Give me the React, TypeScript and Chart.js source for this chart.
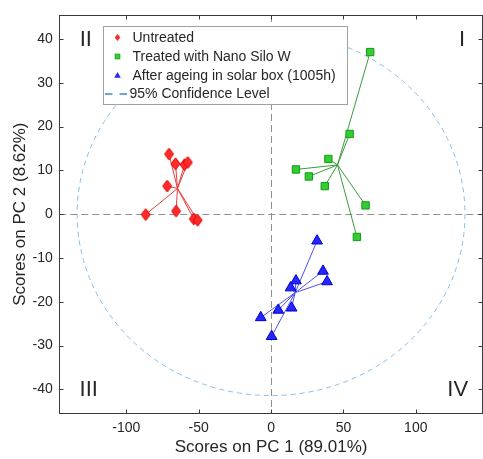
import React, { useEffect, useRef } from "react";
import { Chart, registerables } from "chart.js";

Chart.register(...registerables);

const seriesLabels = ["Untreated", "Treated with Nano Silo W", "After ageing in solar box (1005h)"];
const confidenceLabel = "95% Confidence Level";
const xTitle = "Scores on PC 1 (89.01%)";
const yTitle = "Scores on PC 2 (8.62%)";

const untreatedPC1 = [-70.5, -66.0, -59.8, -57.5, -71.8, -86.6, -65.6, -53.4, -50.7];
const untreatedPC2 = [13.7, 11.5, 11.3, 11.8, 6.4, -0.1, 0.7, -1.1, -1.4];
const treatedPC1 = [68.5, 54.3, 39.6, 17.2, 26.1, 37.1, 65.3, 59.3];
const treatedPC2 = [37.0, 18.3, 12.6, 10.2, 8.6, 6.4, 2.0, -5.2];
const agedPC1 = [31.8, 35.9, 38.7, 17.2, 13.5, 5.0, 14.2, -7.1, 0.4];
const agedPC2 = [-6.1, -13.0, -15.4, -15.2, -16.8, -21.9, -21.4, -23.6, -27.9];

const xTicks = [-100, -50, 0, 50, 100];
const yTicks = [-40, -30, -20, -10, 0, 10, 20, 30, 40];
const xRange = [-146.3, 146.3];
const yRange = [-45.45, 45.45];
const ellipseSemiAxes = [134, 41.4];
const quadrantNames = ["I", "II", "III", "IV"];
const quadrantAnchorX = [132, -128, -126, 129];
const quadrantAnchorY = [40, 40, -40, -40];

const FONT = "'Liberation Sans', Arial, Helvetica, sans-serif";
const TEXT = "#262626";
const RED_FILL = "#ff2b2b";
const RED_EDGE = "#e00000";
const GREEN_FILL = "#33cc33";
const GREEN_EDGE = "#159a15";
const BLUE_FILL = "#2626ff";
const BLUE_EDGE = "#0000d0";

function toPoints(xs: number[], ys: number[]) {
  return xs.map((v, i) => ({ x: v, y: ys[i] }));
}

function makeDiamond(w: number, h: number, fill: string, stroke: string) {
  const c = document.createElement("canvas");
  c.width = w + 2;
  c.height = h + 2;
  const g = c.getContext("2d")!;
  g.beginPath();
  g.moveTo(c.width / 2, 1);
  g.lineTo(c.width - 1, c.height / 2);
  g.lineTo(c.width / 2, c.height - 1);
  g.lineTo(1, c.height / 2);
  g.closePath();
  g.fillStyle = fill;
  g.fill();
  g.strokeStyle = stroke;
  g.lineWidth = 1;
  g.stroke();
  return c;
}

const decorPlugin = {
  id: "decor",
  beforeDatasetsDraw(chart: any) {
    const { ctx, chartArea: ca, scales } = chart;
    const x = scales.x;
    const y = scales.y;
    ctx.save();
    ctx.beginPath();
    ctx.rect(ca.left, ca.top, ca.right - ca.left, ca.bottom - ca.top);
    ctx.clip();
    const x0 = x.getPixelForValue(0);
    const y0 = y.getPixelForValue(0);
    // zero lines
    ctx.strokeStyle = "#8f8f8f";
    ctx.lineWidth = 1;
    ctx.setLineDash([7, 4]);
    ctx.beginPath();
    ctx.moveTo(Math.round(x0) + 0.5, ca.top);
    ctx.lineTo(Math.round(x0) + 0.5, ca.bottom);
    ctx.moveTo(ca.left, Math.round(y0) + 0.5);
    ctx.lineTo(ca.right, Math.round(y0) + 0.5);
    ctx.stroke();
    // confidence ellipse
    const rx = Math.abs(x.getPixelForValue(ellipseSemiAxes[0]) - x0);
    const ry = Math.abs(y.getPixelForValue(ellipseSemiAxes[1]) - y0);
    ctx.strokeStyle = "#86bde8";
    ctx.setLineDash([5, 4]);
    ctx.beginPath();
    ctx.ellipse(x0, y0, rx, ry, 0, 0, Math.PI * 2);
    ctx.stroke();
    // star lines from group centroid
    ctx.setLineDash([]);
    chart.data.datasets.forEach((ds: any) => {
      const pts = ds.data as { x: number; y: number }[];
      const cx = pts.reduce((s, p) => s + p.x, 0) / pts.length;
      const cy = pts.reduce((s, p) => s + p.y, 0) / pts.length;
      const pcx = x.getPixelForValue(cx);
      const pcy = y.getPixelForValue(cy);
      ctx.strokeStyle = ds.starColor;
      ctx.lineWidth = 1;
      ctx.beginPath();
      pts.forEach((p) => {
        ctx.moveTo(pcx, pcy);
        ctx.lineTo(x.getPixelForValue(p.x), y.getPixelForValue(p.y));
      });
      ctx.stroke();
    });
    ctx.restore();
  },
  afterDatasetsDraw(chart: any) {
    const { ctx, chartArea: ca, scales } = chart;
    const x = scales.x;
    const y = scales.y;
    ctx.save();
    // axes box
    const L = Math.floor(ca.left) + 0.5;
    const T = Math.floor(ca.top) + 0.5;
    const R = Math.floor(ca.right) + 0.5;
    const B = Math.floor(ca.bottom) + 0.5;
    ctx.strokeStyle = "#3a3a3a";
    ctx.lineWidth = 1;
    ctx.setLineDash([]);
    ctx.strokeRect(L, T, R - L, B - T);
    // inward ticks
    const TL = 4;
    ctx.beginPath();
    xTicks.forEach((v) => {
      const px = Math.round(x.getPixelForValue(v)) + 0.5;
      ctx.moveTo(px, B);
      ctx.lineTo(px, B - TL);
      ctx.moveTo(px, T);
      ctx.lineTo(px, T + TL);
    });
    yTicks.forEach((v) => {
      const py = Math.round(y.getPixelForValue(v)) + 0.5;
      ctx.moveTo(L, py);
      ctx.lineTo(L + TL, py);
      ctx.moveTo(R, py);
      ctx.lineTo(R - TL, py);
    });
    ctx.stroke();
    // quadrant labels
    ctx.fillStyle = TEXT;
    ctx.font = `22px ${FONT}`;
    ctx.textAlign = "center";
    ctx.textBaseline = "middle";
    quadrantNames.forEach((q, i) => {
      ctx.fillText(q, x.getPixelForValue(quadrantAnchorX[i]), y.getPixelForValue(quadrantAnchorY[i]) + 1);
    });
    // legend
    const bx = Math.floor(ca.left + 44) + 0.5;
    const by = Math.floor(ca.top + 11) + 0.5;
    const bw = 244;
    const bh = 78;
    ctx.fillStyle = "#ffffff";
    ctx.fillRect(bx, by, bw, bh);
    ctx.strokeStyle = "#a0a0a0";
    ctx.strokeRect(bx, by, bw, bh);
    const mx = bx + 14;
    const tx = bx + 29;
    const rows = [by + 11, by + 30, by + 49, by + 67.5];
    // diamond
    ctx.beginPath();
    ctx.moveTo(mx, rows[0] - 3.5);
    ctx.lineTo(mx + 2.8, rows[0]);
    ctx.lineTo(mx, rows[0] + 3.5);
    ctx.lineTo(mx - 2.8, rows[0]);
    ctx.closePath();
    ctx.fillStyle = RED_FILL;
    ctx.fill();
    // square
    ctx.fillStyle = GREEN_FILL;
    ctx.fillRect(mx - 2.5, rows[1] - 2.5, 5, 5);
    ctx.strokeStyle = GREEN_EDGE;
    ctx.lineWidth = 0.6;
    ctx.strokeRect(mx - 2.5, rows[1] - 2.5, 5, 5);
    // triangle
    ctx.beginPath();
    ctx.moveTo(mx, rows[2] - 3.5);
    ctx.lineTo(mx + 3.3, rows[2] + 2.3);
    ctx.lineTo(mx - 3.3, rows[2] + 2.3);
    ctx.closePath();
    ctx.fillStyle = BLUE_FILL;
    ctx.fill();
    // dashed line
    ctx.strokeStyle = "#3f8ad0";
    ctx.lineWidth = 1.5;
    ctx.beginPath();
    ctx.moveTo(bx + 1.5, rows[3]);
    ctx.lineTo(bx + 9, rows[3]);
    ctx.moveTo(bx + 16, rows[3]);
    ctx.lineTo(bx + 23.5, rows[3]);
    ctx.stroke();
    ctx.fillStyle = TEXT;
    ctx.font = `14px ${FONT}`;
    ctx.textAlign = "left";
    ctx.textBaseline = "middle";
    seriesLabels.forEach((s, i) => ctx.fillText(s, tx, rows[i] + 0.5));
    ctx.fillText(confidenceLabel, tx - 3, rows[3] + 0.5);
    ctx.restore();
  },
};

export default function App() {
  const ref = useRef<HTMLCanvasElement | null>(null);
  useEffect(() => {
    if (!ref.current) return;
    const diamond = makeDiamond(9, 12, RED_FILL, RED_EDGE);
    const chart = new Chart(ref.current, {
      type: "scatter",
      data: {
        datasets: [
          {
            label: seriesLabels[0],
            data: toPoints(untreatedPC1, untreatedPC2),
            pointStyle: diamond as any,
            backgroundColor: RED_FILL,
            borderColor: RED_EDGE,
            starColor: "#e63c3c",
          } as any,
          {
            label: seriesLabels[1],
            data: toPoints(treatedPC1, treatedPC2),
            pointStyle: "rect",
            pointRadius: 5.2,
            borderWidth: 1,
            backgroundColor: GREEN_FILL,
            borderColor: GREEN_EDGE,
            starColor: "#3a9a3a",
          } as any,
          {
            label: seriesLabels[2],
            data: toPoints(agedPC1, agedPC2),
            pointStyle: "triangle",
            pointRadius: 6.2,
            borderWidth: 1,
            backgroundColor: BLUE_FILL,
            borderColor: BLUE_EDGE,
            starColor: "#5050f0",
          } as any,
        ],
      },
      options: {
        animation: false,
        responsive: false,
        devicePixelRatio: 1,
        layout: { padding: { top: 13, right: 5.4, left: 0, bottom: 0 } },
        plugins: { legend: { display: false }, tooltip: { enabled: false } },
        scales: {
          x: {
            type: "linear",
            min: xRange[0],
            max: xRange[1],
            afterBuildTicks: (axis: any) => {
              axis.ticks = xTicks.map((v) => ({ value: v }));
            },
            afterFit: (axis: any) => {
              axis.height = 45.7;
            },
            grid: { display: false, drawTicks: false },
            border: { display: false },
            ticks: { color: TEXT, font: { family: FONT, size: 14 }, padding: 6.3, maxRotation: 0 },
            title: {
              display: true,
              text: xTitle,
              color: TEXT,
              font: { family: FONT, size: 17 },
              padding: { top: 0, bottom: 1 },
            },
          },
          y: {
            type: "linear",
            min: yRange[0],
            max: yRange[1],
            afterBuildTicks: (axis: any) => {
              axis.ticks = yTicks.map((v) => ({ value: v }));
            },
            afterFit: (axis: any) => {
              axis.width = 59.3;
            },
            grid: { display: false, drawTicks: false },
            border: { display: false },
            ticks: { color: TEXT, font: { family: FONT, size: 14 }, padding: 6.6 },
            title: {
              display: true,
              text: yTitle,
              color: TEXT,
              font: { family: FONT, size: 17 },
              padding: { top: 10.3, bottom: 0 },
            },
          },
        },
      },
      plugins: [decorPlugin],
    } as any);
    return () => chart.destroy();
  }, []);
  return (
    <div style={{ position: "fixed", left: 0, top: 0, width: 483, height: 459, overflow: "hidden", background: "#fff" }}>
      <canvas ref={ref} width={490} height={459} style={{ display: "block" }} />
    </div>
  );
}
